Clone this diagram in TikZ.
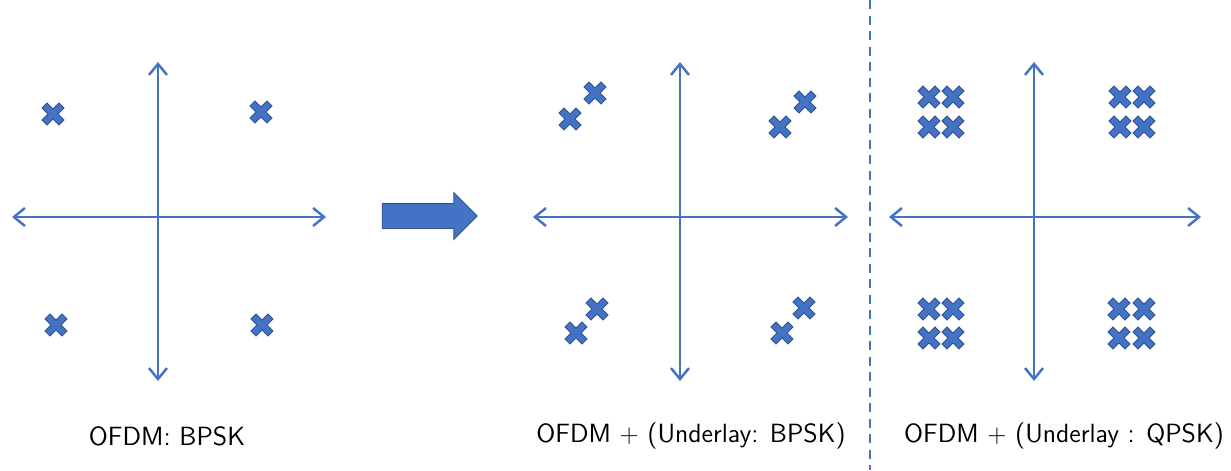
\documentclass[tikz,border=0pt]{standalone}
\usepackage{amsmath}
\usepackage{tikz}
\usetikzlibrary{arrows.meta}
\usetikzlibrary{shapes.arrows}

\definecolor{ofdmblue}{HTML}{4472C4}
\definecolor{ofdmedge}{HTML}{2F528F}

\tikzset{
  axis/.style={{Straight Barb[length=2.2mm,width=3.6mm]}-{Straight Barb[length=2.2mm,width=3.6mm]}, draw=ofdmblue, line width=1.4pt},
  caption/.style={font=\sffamily\fontsize{15}{18}\selectfont},
  sym/.pic={\filldraw[fill=ofdmblue, draw=ofdmedge, line width=0.5pt, rotate=45]
    (-0.07,-0.24) -- (0.07,-0.24) -- (0.07,-0.07) -- (0.24,-0.07) -- (0.24,0.07)
    -- (0.07,0.07) -- (0.07,0.24) -- (-0.07,0.24) -- (-0.07,0.07) -- (-0.24,0.07)
    -- (-0.24,-0.07) -- (-0.07,-0.07) -- cycle;}
}

\begin{document}
\begin{tikzpicture}
\useasboundingbox (0,0) rectangle (24.62,9.4);

% BPSK
\coordinate (Lw) at (0.24,5.06);
\coordinate (Le) at (6.52,5.06);
\coordinate (Ln) at (3.16,8.16);
\coordinate (Ls) at (3.16,1.78);
\draw[axis] (Lw) -- (Le);
\draw[axis] (Ls) -- (Ln);
\pic at (1.06,7.12) {sym};
\pic at (5.22,7.16) {sym};
\pic at (1.12,2.90) {sym};
\pic at (5.24,2.90) {sym};
\node[caption] (capL) at (3.34,0.68) {OFDM: BPSK};

\node[single arrow, fill=ofdmblue, draw=ofdmedge, line width=0.5pt,
      minimum height=1.9cm, minimum width=0.92cm, inner sep=0.24cm,
      single arrow head extend=0.22cm] (go) at (8.47,5.08) {};

% BPSK underlay
\coordinate (Mw) at (10.66,5.06);
\coordinate (Me) at (16.96,5.06);
\coordinate (Mn) at (13.60,8.16);
\coordinate (Ms) at (13.60,1.78);
\draw[axis] (Mw) -- (Me);
\draw[axis] (Ms) -- (Mn);
\pic at (11.40,7.02) {sym};
\pic at (11.90,7.54) {sym};
\pic at (15.60,6.86) {sym};
\pic at (16.10,7.36) {sym};
\pic at (11.52,2.74) {sym};
\pic at (11.94,3.22) {sym};
\pic at (15.64,2.74) {sym};
\pic at (16.08,3.24) {sym};
\node[caption] (capM) at (13.82,0.68) {OFDM $+$ (Underlay: BPSK)};

\coordinate (cutTop) at (17.40,9.40);
\coordinate (cutBot) at (17.40,0.00);
\draw[ofdmblue, line width=1.1pt, dash pattern=on 0.18cm off 0.13cm] (cutTop) -- (cutBot);

% QPSK underlay
\coordinate (Rw) at (17.78,5.06);
\coordinate (Re) at (24.02,5.06);
\coordinate (Rn) at (20.68,8.16);
\coordinate (Rs) at (20.68,1.78);
\draw[axis] (Rw) -- (Re);
\draw[axis] (Rs) -- (Rn);
\pic at (18.58,7.46) {sym};
\pic at (19.06,7.46) {sym};
\pic at (18.58,6.86) {sym};
\pic at (19.06,6.86) {sym};
\pic at (22.40,7.46) {sym};
\pic at (22.88,7.46) {sym};
\pic at (22.40,6.86) {sym};
\pic at (22.88,6.86) {sym};
\pic at (18.58,3.22) {sym};
\pic at (19.06,3.22) {sym};
\pic at (18.58,2.64) {sym};
\pic at (19.06,2.64) {sym};
\pic at (22.38,3.22) {sym};
\pic at (22.88,3.22) {sym};
\pic at (22.38,2.64) {sym};
\pic at (22.88,2.64) {sym};
\node[caption] (capR) at (21.28,0.68) {OFDM $+$ (Underlay : QPSK)};
\end{tikzpicture}
\end{document}
